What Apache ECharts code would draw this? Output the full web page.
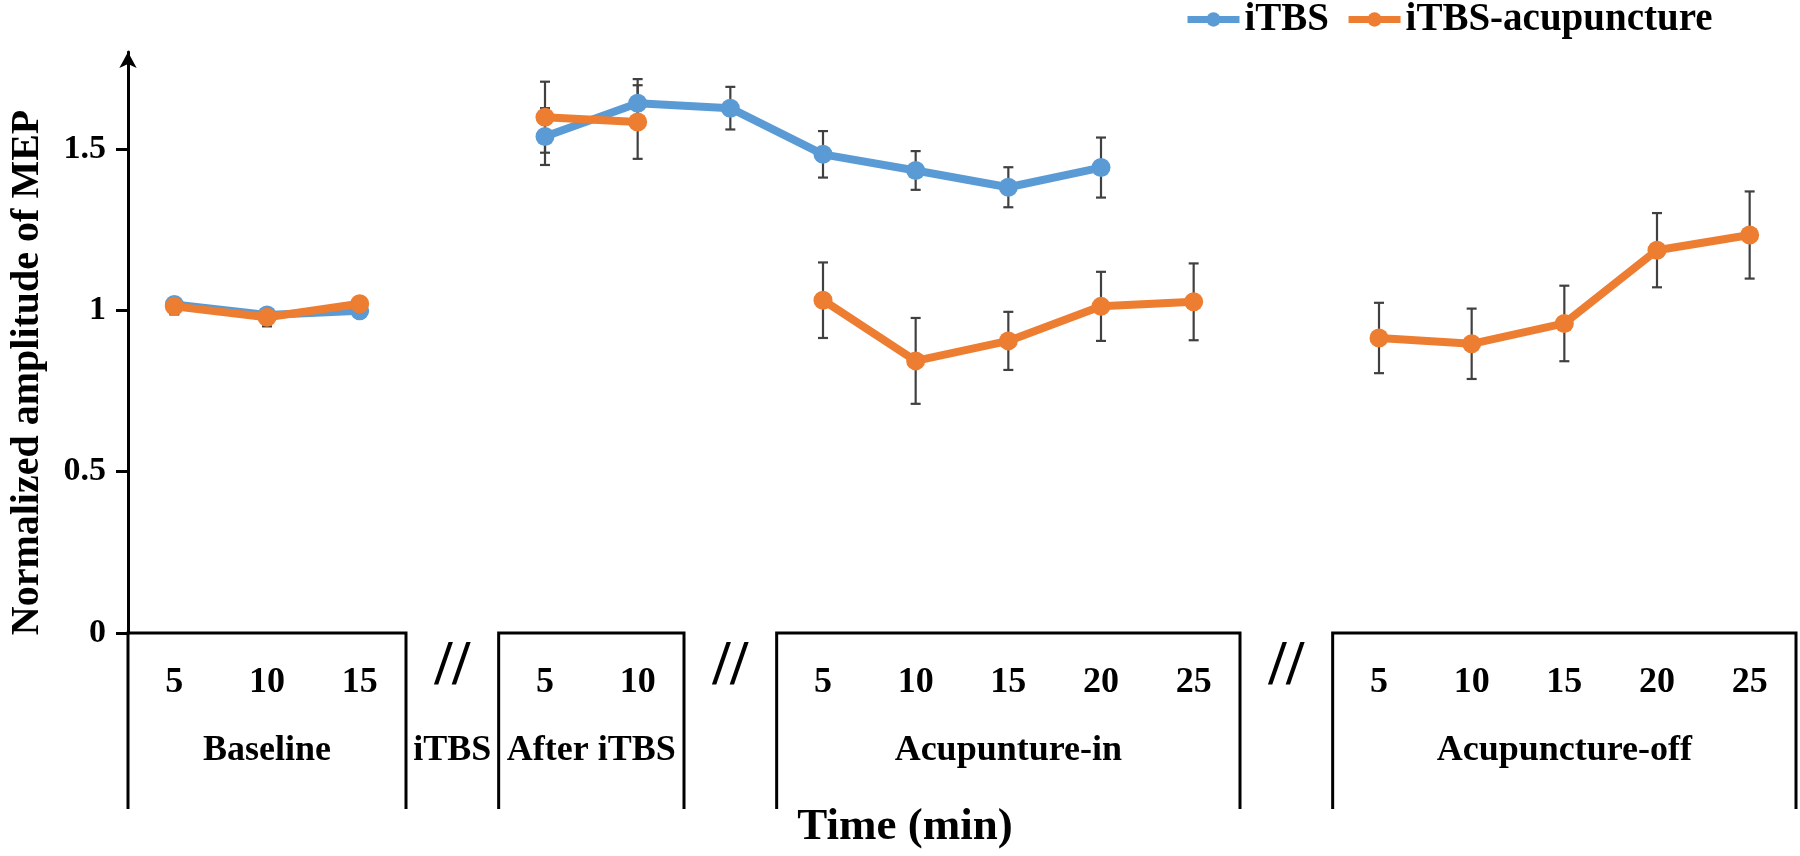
<!DOCTYPE html>
<html>
<head>
<meta charset="utf-8">
<script src="https://cdn.jsdelivr.net/npm/echarts@6/dist/echarts.min.js"></script>
<style>
  html, body { margin: 0; padding: 0; background: #fff; }
  #main { width: 1800px; height: 856px; }
</style>
</head>
<body>
<div id="main"></div>
<script>
// tick labels under the axis (one per column, gaps are empty)
const tickLabels = ['5', '10', '15', '', '5', '10', '', '5', '10', '15', '20', '25', '', '5', '10', '15', '20', '25'];

// mean values, null = no point
const itbs = [1.018, 0.985, 0.998, null, 1.538, 1.641, 1.626, 1.483, 1.433, 1.381, 1.442, null, null, null, null, null, null, null];
const itbsErr = [0.02, 0.02, 0.02, null, 0.088, 0.075, 0.066, 0.072, 0.06, 0.062, 0.093, null, null, null, null, null, null, null];

const acu = [1.012, 0.978, 1.02, null, 1.598, 1.583, null, 1.031, 0.843, 0.905, 1.012, 1.026, null, 0.914, 0.896, 0.959, 1.186, 1.233];
const acuErr = [0.025, 0.028, 0.02, null, 0.11, 0.114, null, 0.117, 0.133, 0.09, 0.107, 0.119, null, 0.109, 0.109, 0.117, 0.115, 0.135];

// phases below the axis
const groupNames = ['Baseline', 'iTBS', 'After iTBS', 'Acupunture-in', 'Acupuncture-off'];
const groupStart = [0, 3, 4, 7, 13];
const groupEnd = [2, 3, 5, 11, 17];
const groupBoxed = [1, 0, 1, 1, 1];
const breakCols = [3, 6, 12];

const yTicks = [0, 0.5, 1, 1.5];

const FONT = '"Liberation Serif", "Times New Roman", serif';
const BLUE = '#5B9BD5';
const ORANGE = '#ED7D31';

let chart = echarts.init(document.getElementById('main'));

function errData(vals, errs) {
  let out = [];
  vals.forEach((v, i) => {
    if (v != null && errs[i] != null) out.push([i, v - errs[i], v + errs[i]]);
  });
  return out;
}

function renderErr(params, api) {
  let lo = api.coord([api.value(0), api.value(1)]);
  let hi = api.coord([api.value(0), api.value(2)]);
  let w = 5;
  let st = { stroke: '#404040', lineWidth: 2.2 };
  return {
    type: 'group',
    children: [
      { type: 'line', shape: { x1: lo[0], y1: lo[1], x2: hi[0], y2: hi[1] }, style: st },
      { type: 'line', shape: { x1: lo[0] - w, y1: lo[1], x2: lo[0] + w, y2: lo[1] }, style: st },
      { type: 'line', shape: { x1: hi[0] - w, y1: hi[1], x2: hi[0] + w, y2: hi[1] }, style: st }
    ]
  };
}

function renderGroup(params, api) {
  let bw = api.size([1, 0])[0];
  let a = api.coord([api.value(0), 0]);
  let b = api.coord([api.value(1), 0]);
  let x0 = a[0] - bw / 2, x1 = b[0] + bw / 2, y0 = a[1];
  let kids = [];
  if (api.value(2)) {
    kids.push({
      type: 'polyline',
      shape: { points: [[x0, y0 + 176], [x0, y0], [x1, y0], [x1, y0 + 176]] },
      style: { stroke: '#000', lineWidth: 3, fill: 'none' }
    });
  }
  kids.push({
    type: 'text',
    x: (x0 + x1) / 2,
    y: y0 + 118,
    style: { text: groupNames[params.dataIndex], fill: '#000', font: 'bold 36px ' + FONT, align: 'center', verticalAlign: 'middle' }
  });
  return { type: 'group', children: kids };
}

function renderBreak(params, api) {
  let p = api.coord([api.value(0), 0]);
  return {
    type: 'text',
    x: p[0],
    y: p[1] + 34,
    style: { text: '//', fill: '#000', font: 'bold 64px ' + FONT, align: 'center', verticalAlign: 'middle' }
  };
}

let option = {
  animation: false,
  backgroundColor: '#fff',
  grid: { left: 124, right: 4, top: 52, bottom: 223 },
  legend: {
    data: ['iTBS', 'iTBS-acupuncture'],
    left: 1184,
    top: 0,
    padding: 0,
    itemWidth: 52,
    itemHeight: 18,
    itemGap: 16,
    lineStyle: { width: 7 },
    textStyle: { fontFamily: FONT, fontWeight: 'bold', fontSize: 39, color: '#000' }
  },
  title: {
    text: 'Time (min)',
    left: 900,
    top: 800,
    textAlign: 'center',
    textStyle: { fontFamily: FONT, fontWeight: 'bold', fontSize: 45, color: '#000' }
  },
  xAxis: {
    type: 'category',
    data: tickLabels,
    boundaryGap: true,
    axisLine: { show: false },
    axisTick: { show: false },
    splitLine: { show: false },
    axisLabel: { interval: 0, margin: 32, fontFamily: FONT, fontWeight: 'bold', fontSize: 36, color: '#000' }
  },
  yAxis: {
    type: 'value',
    min: 0,
    max: 1.8,
    interval: 0.5,
    name: 'Normalized amplitude of MEP',
    nameLocation: 'middle',
    nameGap: 80,
    nameTextStyle: { fontFamily: FONT, fontWeight: 'bold', fontSize: 40, color: '#000', padding: [0, 60, 0, 0] },
    axisLine: { show: true, lineStyle: { color: '#000', width: 3 }, symbol: ['none', 'arrow'], symbolSize: [13, 16] },
    axisTick: { show: true, length: 12, lineStyle: { color: '#000', width: 3 }, customValues: yTicks },
    axisLabel: { margin: 22, fontFamily: FONT, fontWeight: 'bold', fontSize: 34, color: '#000', customValues: yTicks },
    splitLine: { show: false }
  },
  series: [
    {
      type: 'custom',
      name: 'groups',
      renderItem: renderGroup,
      clip: false,
      silent: true,
      z: 1,
      data: groupNames.map((n, i) => [groupStart[i], groupEnd[i], groupBoxed[i]])
    },
    {
      type: 'custom',
      name: 'breaks',
      renderItem: renderBreak,
      clip: false,
      silent: true,
      z: 1,
      data: breakCols.map(c => [c])
    },
    {
      type: 'custom',
      name: 'errItbs',
      renderItem: renderErr,
      z: 1,
      data: errData(itbs, itbsErr)
    },
    {
      type: 'custom',
      name: 'errAcu',
      renderItem: renderErr,
      z: 1,
      data: errData(acu, acuErr)
    },
    {
      name: 'iTBS',
      type: 'line',
      z: 2,
      data: itbs,
      connectNulls: false,
      symbol: 'circle',
      symbolSize: 19,
      color: BLUE,
      lineStyle: { width: 8, color: BLUE },
      itemStyle: { color: BLUE }
    },
    {
      name: 'iTBS-acupuncture',
      type: 'line',
      z: 3,
      data: acu,
      connectNulls: false,
      symbol: 'circle',
      symbolSize: 19,
      color: ORANGE,
      lineStyle: { width: 8, color: ORANGE },
      itemStyle: { color: ORANGE }
    }
  ]
};

chart.setOption(option);
</script>
</body>
</html>
